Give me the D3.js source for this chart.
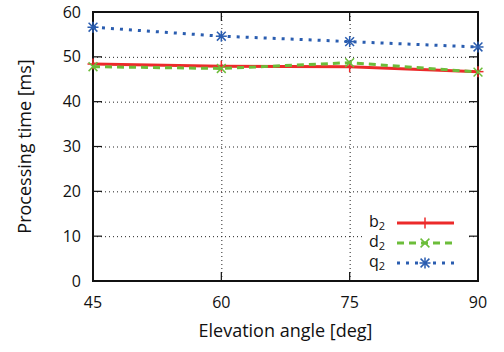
<!DOCTYPE html>
<html>
<head>
<meta charset="utf-8">
<script src="https://cdn.jsdelivr.net/npm/d3@7"></script>
<style>
  body { margin: 0; background: #fff; }
  text { font-family: "Open Sans", "DejaVu Sans", sans-serif; fill: #111; }
</style>
</head>
<body>
<script>
(function() {

    const width = 504;
    const height = 352;

    // data
    const angles = [45, 60, 75, 90];
    const b2 = [48.4, 47.9, 47.8, 46.7];
    const d2 = [47.8, 47.4, 48.7, 46.6];
    const q2 = [56.6, 54.6, 53.4, 52.2];
    const yTicks = [0, 10, 20, 30, 40, 50, 60];

    const series = [
        { name: "b", values: b2, color: "#ec2a2a", dash: null, marker: "plus" },
        { name: "d", values: d2, color: "#6cbd3a", dash: "7,5", marker: "cross" },
        { name: "q", values: q2, color: "#2a5db0", dash: "3,6", marker: "star" }
    ];

    const margin = { left: 93, right: 26, top: 12, bottom: 71 };

    let x = d3.scaleLinear()
        .domain([45, 90])
        .range([margin.left, width - margin.right]);

    let y = d3.scaleLinear()
        .domain([0, 60])
        .range([height - margin.bottom, margin.top]);

    let svg = d3.select("body").append("svg")
        .attr("width", width)
        .attr("height", height);

    const x0 = x.range()[0], x1 = x.range()[1];
    const y0 = y.range()[0], y1 = y.range()[1];

    // grid lines (dotted)
    let grid = svg.append("g")
        .attr("stroke", "#222")
        .attr("stroke-width", 1)
        .attr("stroke-dasharray", "1,3");

    grid.selectAll(".gy")
        .data(yTicks.filter(d => d > 0 && d < 60))
        .enter().append("line")
        .attr("x1", x0).attr("x2", x1)
        .attr("y1", d => y(d) + 0.5).attr("y2", d => y(d) + 0.5);

    grid.selectAll(".gx")
        .data(angles.filter(d => d > 45 && d < 90))
        .enter().append("line")
        .attr("y1", y1).attr("y2", y0)
        .attr("x1", d => x(d) + 0.5).attr("x2", d => x(d) + 0.5);

    // legend background hides the grid behind it
    svg.append("rect")
        .attr("x", 364).attr("y", 212)
        .attr("width", 103).attr("height", 64)
        .attr("fill", "#fff");

    // tick marks inside on all sides
    let ticks = svg.append("g").attr("stroke", "#111").attr("stroke-width", 1.2);
    yTicks.forEach(function(d) {
        ticks.append("line").attr("x1", x0).attr("x2", x0 + 9).attr("y1", y(d)).attr("y2", y(d));
        ticks.append("line").attr("x1", x1 - 9).attr("x2", x1).attr("y1", y(d)).attr("y2", y(d));
    });
    angles.forEach(function(d) {
        ticks.append("line").attr("x1", x(d)).attr("x2", x(d)).attr("y1", y0).attr("y2", y0 - 9);
        ticks.append("line").attr("x1", x(d)).attr("x2", x(d)).attr("y1", y1).attr("y2", y1 + 9);
    });

    // frame
    svg.append("rect")
        .attr("x", x0).attr("y", y1)
        .attr("width", x1 - x0).attr("height", y0 - y1)
        .attr("fill", "none")
        .attr("stroke", "#111")
        .attr("stroke-width", 2);

    // tick labels
    svg.selectAll(".ylab")
        .data(yTicks)
        .enter().append("text")
        .attr("x", x0 - 12)
        .attr("y", d => y(d))
        .attr("dy", "0.35em")
        .attr("text-anchor", "end")
        .style("font-size", "16px")
        .text(d => d);

    svg.selectAll(".xlab")
        .data(angles)
        .enter().append("text")
        .attr("x", d => x(d))
        .attr("y", y0 + 27)
        .attr("text-anchor", "middle")
        .style("font-size", "16px")
        .text(d => d);

    // axis titles
    svg.append("text")
        .attr("x", (x0 + x1) / 2)
        .attr("y", 337)
        .attr("text-anchor", "middle")
        .style("font-size", "18px")
        .text("Elevation angle [deg]");

    svg.append("text")
        .attr("transform", "translate(31," + ((y0 + y1) / 2) + ") rotate(-90)")
        .attr("text-anchor", "middle")
        .style("font-size", "18px")
        .text("Processing time [ms]");

    function drawMarker(g, kind, cx, cy, color) {
        const r = 5.5;
        let m = g.append("g")
            .attr("transform", "translate(" + cx + "," + cy + ")")
            .attr("stroke", color)
            .attr("stroke-width", 1.5)
            .attr("fill", "none");
        if (kind === "plus" || kind === "star") {
            m.append("line").attr("x1", -r).attr("x2", r).attr("y1", 0).attr("y2", 0);
            m.append("line").attr("x1", 0).attr("x2", 0).attr("y1", -r).attr("y2", r);
        }
        if (kind === "cross" || kind === "star") {
            const s = r * 0.8;
            m.append("line").attr("x1", -s).attr("x2", s).attr("y1", -s).attr("y2", s);
            m.append("line").attr("x1", -s).attr("x2", s).attr("y1", s).attr("y2", -s);
        }
    }

    let line = d3.line()
        .x(d => x(d[0]))
        .y(d => y(d[1]));

    series.forEach(function(s) {
        let pts = angles.map((a, i) => [a, s.values[i]]);
        svg.append("path")
            .datum(pts)
            .attr("d", line)
            .attr("fill", "none")
            .attr("stroke", s.color)
            .attr("stroke-width", 3)
            .attr("stroke-dasharray", s.dash);
        pts.forEach(p => drawMarker(svg, s.marker, x(p[0]), y(p[1]), s.color));
    });

    // legend
    series.forEach(function(s, i) {
        const ly = 223 + i * 20;
        let t = svg.append("text")
            .attr("x", 385)
            .attr("y", ly + 4)
            .attr("text-anchor", "end")
            .style("font-size", "16px");
        t.append("tspan").text(s.name);
        t.append("tspan")
            .attr("dy", 3)
            .style("font-size", "11px")
            .text("2");
        svg.append("line")
            .attr("x1", 397).attr("x2", 454)
            .attr("y1", ly).attr("y2", ly)
            .attr("stroke", s.color)
            .attr("stroke-width", 3)
            .attr("stroke-dasharray", s.dash);
        drawMarker(svg, s.marker, 425, ly, s.color);
    });

})();
</script>
</body>
</html>
